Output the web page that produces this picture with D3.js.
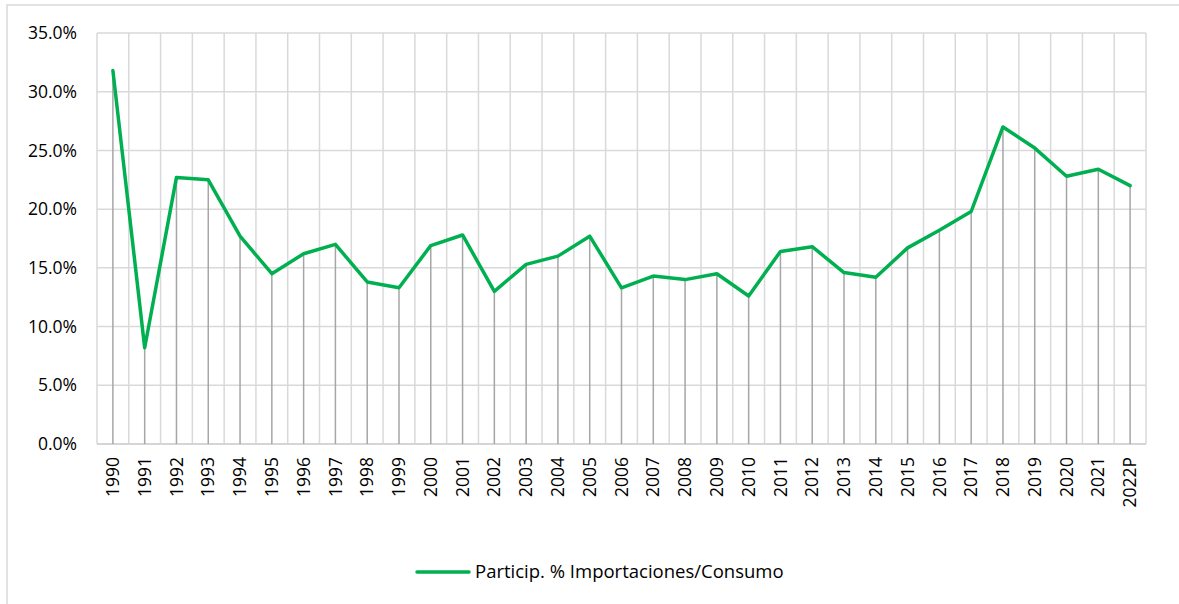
<!DOCTYPE html>
<html>
<head>
<meta charset="utf-8">
<script src="https://cdn.jsdelivr.net/npm/d3@7"></script>
<style>
  body { margin: 0; background: #fff; }
  svg text { font-family: "Open Sans", sans-serif; fill: #000; }
</style>
</head>
<body>
<script>
// chart data
var years = ["1990","1991","1992","1993","1994","1995","1996","1997","1998","1999",
             "2000","2001","2002","2003","2004","2005","2006","2007","2008","2009",
             "2010","2011","2012","2013","2014","2015","2016","2017","2018","2019",
             "2020","2021","2022P"];
var participacion = [31.8, 8.2, 22.7, 22.5, 17.7, 14.5, 16.2, 17.0, 13.8, 13.3,
                     16.9, 17.8, 13.0, 15.3, 16.0, 17.7, 13.3, 14.3, 14.0, 14.5,
                     12.6, 16.4, 16.8, 14.6, 14.2, 16.7, 18.2, 19.8, 27.0, 25.2,
                     22.8, 23.4, 22.0];
var yTicks = [0, 5, 10, 15, 20, 25, 30, 35];
var seriesName = "Particip. % Importaciones/Consumo";

var W = 1179, H = 604;
var mLeft = 97, mRight = 1146, mTop = 33, mBottom = 444;
var fontSize = "17.5px";

var svg = d3.select("body").append("svg")
    .attr("width", W)
    .attr("height", H);

// chart border (only left/top visible in frame)
svg.append("rect")
    .attr("x", 7).attr("y", 5)
    .attr("width", W).attr("height", H)
    .attr("fill", "none")
    .attr("stroke", "#d9d9d9")
    .attr("stroke-width", 1.5);

var x = d3.scaleBand().domain(years).range([mLeft, mRight]);
var y = d3.scaleLinear().domain([0, 35]).range([mBottom, mTop]);

// horizontal gridlines
svg.append("g").selectAll("line")
    .data(yTicks)
    .enter().append("line")
    .attr("x1", mLeft).attr("x2", mRight)
    .attr("y1", function(d) { return y(d); })
    .attr("y2", function(d) { return y(d); })
    .attr("stroke", "#d9d9d9")
    .attr("stroke-width", 1.5);

// vertical gridlines at category boundaries
var bounds = years.map(function(d) { return x(d); }).concat([mRight]);
svg.append("g").selectAll("line")
    .data(bounds)
    .enter().append("line")
    .attr("x1", function(d) { return d; })
    .attr("x2", function(d) { return d; })
    .attr("y1", mTop).attr("y2", mBottom)
    .attr("stroke", "#d9d9d9")
    .attr("stroke-width", 1.5);

// bottom axis line
svg.append("line")
    .attr("x1", mLeft).attr("x2", mRight)
    .attr("y1", mBottom).attr("y2", mBottom)
    .attr("stroke", "#d0d0d0")
    .attr("stroke-width", 1.5);

// drop lines
svg.append("g").selectAll("line")
    .data(participacion)
    .enter().append("line")
    .attr("x1", function(d, i) { return x(years[i]) + x.bandwidth() / 2; })
    .attr("x2", function(d, i) { return x(years[i]) + x.bandwidth() / 2; })
    .attr("y1", function(d) { return y(d); })
    .attr("y2", mBottom)
    .attr("stroke", "#a6a6a6")
    .attr("stroke-width", 1.5);

// y axis
var yAxis = d3.axisLeft(y)
    .tickValues(yTicks)
    .tickSize(0)
    .tickPadding(20)
    .tickFormat(function(d) { return d.toFixed(1) + "%"; });
var gy = svg.append("g")
    .attr("transform", "translate(" + mLeft + ",0)")
    .call(yAxis);
gy.select(".domain").remove();
gy.selectAll("text")
    .attr("font-size", fontSize)
    .style("font-family", "'Open Sans', sans-serif");

// x axis
var xAxis = d3.axisBottom(x).tickSize(0);
var gx = svg.append("g")
    .attr("transform", "translate(0," + mBottom + ")")
    .call(xAxis);
gx.select(".domain").remove();
gx.selectAll("text")
    .attr("font-size", fontSize)
    .style("font-family", "'Open Sans', sans-serif")
    .attr("transform", "rotate(-90)")
    .attr("text-anchor", "end")
    .attr("x", -13)
    .attr("y", 0)
    .attr("dy", "0.35em");

// series line
var line = d3.line()
    .x(function(d, i) { return x(years[i]) + x.bandwidth() / 2; })
    .y(function(d) { return y(d); });

svg.append("path")
    .datum(participacion)
    .attr("d", line)
    .attr("fill", "none")
    .attr("stroke", "#00b050")
    .attr("stroke-width", 3.5)
    .attr("stroke-linejoin", "round")
    .attr("stroke-linecap", "round");

// legend
var lg = svg.append("g");
lg.append("line")
    .attr("x1", 417).attr("x2", 469)
    .attr("y1", 572).attr("y2", 572)
    .attr("stroke", "#00b050")
    .attr("stroke-width", 3.5)
    .attr("stroke-linecap", "round");
lg.append("text")
    .attr("x", 475).attr("y", 572)
    .attr("dy", "0.35em")
    .attr("font-size", "18.5px")
    .text(seriesName);
</script>
</body>
</html>
